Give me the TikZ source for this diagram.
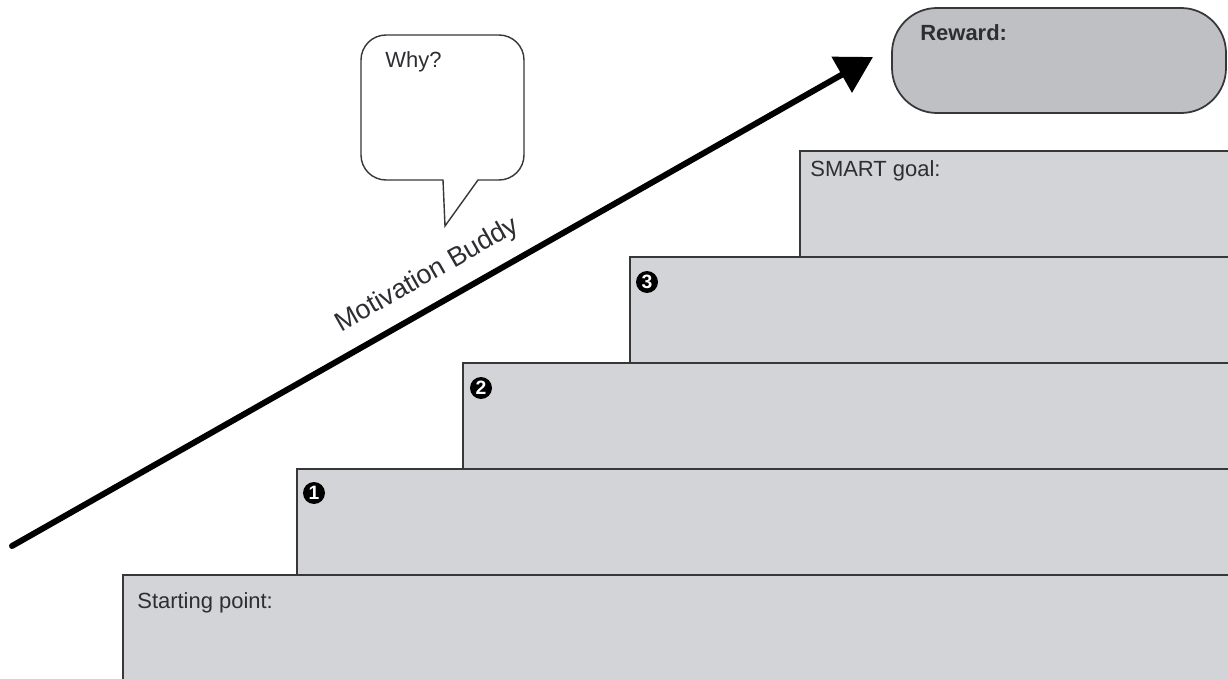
\documentclass[tikz,border=0pt]{standalone}
\usepackage{fontspec}
\setmainfont{Liberation Sans}
\usetikzlibrary{arrows.meta}
\usepackage{xcolor}
\definecolor{stepgray}{RGB}{211,212,215}
\definecolor{rewardgray}{RGB}{191,192,196}
\definecolor{edgegray}{RGB}{55,55,58}
\definecolor{inkgray}{RGB}{45,45,50}

\begin{document}
\begin{tikzpicture}[x=0.02cm, y=-0.02cm,
    stepbox/.style={fill=stepgray, draw=edgegray, line width=1pt},
    steplabel/.style={anchor=west, inner sep=0pt, text=inkgray, font=\fontsize{12.5}{15}\selectfont},
    stepnum/.style={circle, fill=black, text=white, inner sep=0pt, minimum size=0.44cm, font=\fontsize{11}{11}\bfseries}]
    \useasboundingbox (0,0) rectangle (1228,679);
    \clip (0,0) rectangle (1228,679);
    \fill[white] (0,0) rectangle (1228,679);

    % Reward
    \draw[fill=rewardgray, draw=edgegray, line width=1pt, rounded corners=0.9cm] (892,8) rectangle (1226,113);
    \node[steplabel, font=\fontsize{12.5}{15}\selectfont\bfseries] (reward) at (920,33) {Reward:};

    % Stairs
    \draw[stepbox] (800,151) rectangle (1240,257);
    \node[steplabel] (goal) at (810,171) {SMART goal:};
    \draw[stepbox] (630,257) rectangle (1240,363);
    \node[stepnum] (three) at (647,282) {3};
    \draw[stepbox] (463,363) rectangle (1240,469);
    \node[stepnum] (two) at (481,388) {2};
    \draw[stepbox] (297,469) rectangle (1240,575);
    \node[stepnum] (one) at (314,493) {1};
    \draw[stepbox] (123,575) rectangle (1240,690);
    \node[steplabel] (start) at (137,603) {Starting point:};

    % Speech bubble
    \draw[edgegray, line width=0.8pt, fill=white] (445,226) -- (443,180) [rounded corners=0.5cm] -- (361,180) -- (361,35) -- (524,35) -- (524,180) [sharp corners] -- (478,180) -- cycle;
    \node[steplabel] (why) at (385,62) {Why?};

    % Motivation arrow
    \coordinate (tail) at (12,546);
    \coordinate (tip) at (873,57);
    \draw[line width=3.4pt, line cap=round, -{Triangle[length=0.72cm, width=0.8cm]}] (tail) -- (tip)
        node[pos=0.5, sloped, above=5pt, text=inkgray, font=\fontsize{15.3}{18}\selectfont] (buddy) {Motivation Buddy};
\end{tikzpicture}
\end{document}
